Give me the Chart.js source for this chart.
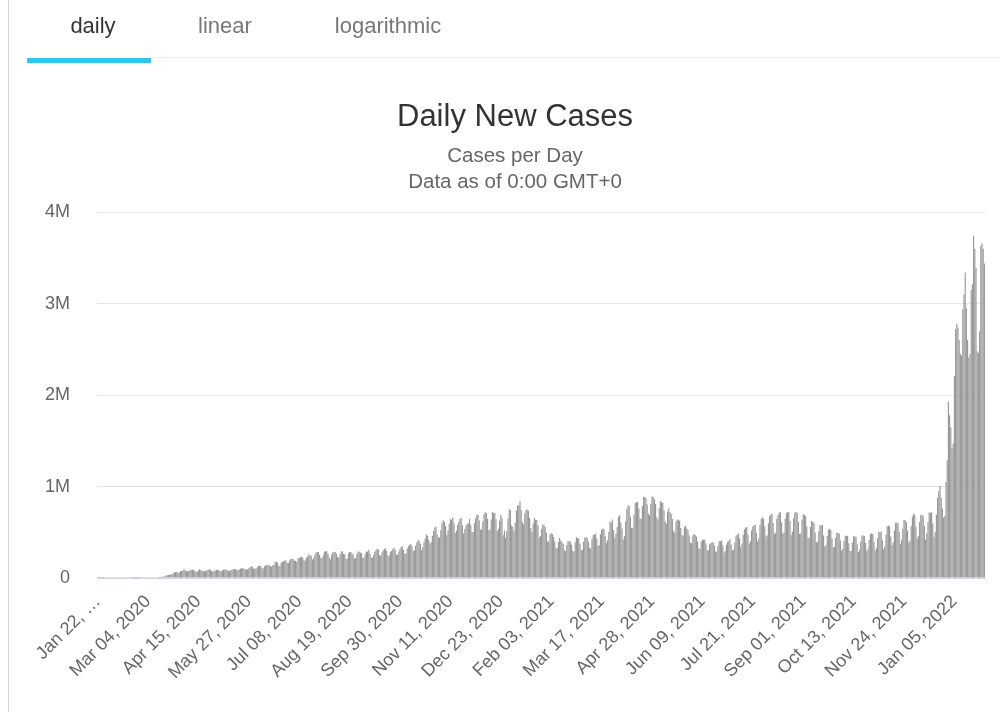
<!DOCTYPE html>
<html>
<head>
<meta charset="utf-8">
<script src="https://cdn.jsdelivr.net/npm/chart.js@4.4.1/dist/chart.umd.min.js"></script>
<style>
html,body{margin:0;padding:0;background:#fff;width:1000px;height:712px;overflow:hidden;font-family:"Liberation Sans",Arial,sans-serif;}
#wrap{position:relative;width:1000px;height:712px;}
#leftline{position:absolute;left:8px;top:0;width:1px;height:712px;background:#d6d6d6;}
.tab{position:absolute;top:11px;font-size:22px;line-height:30px;color:#777;transform:translateX(-50%);white-space:nowrap;}
#t1{left:93px;color:#333;}
#t2{left:225px;}
#t3{left:388px;}
#underline{position:absolute;left:27px;top:58px;width:124px;height:5px;background:#2fc4f2;}
#sep{position:absolute;left:151px;top:57px;width:849px;height:1px;background:#ececec;}
#chartbox{position:absolute;left:0;top:0;width:1000px;height:712px;}
</style>
</head>
<body>
<div id="wrap">
  <div id="chartbox"><canvas id="c" width="1000" height="712"></canvas></div>
  <div id="leftline"></div>
  <div class="tab" id="t1">daily</div>
  <div class="tab" id="t2">linear</div>
  <div class="tab" id="t3">logarithmic</div>
  <div id="sep"></div>
  <div id="underline"></div>
</div>
<script>
// Daily new cases, in thousands, one row per week (first day: Jan 22, 2020)
const dailyCasesK = [
// Jan 22 2020
0.6,0.1,0.3,0.5,0.7,0.8,1.7,
1.5,1.8,2.1,2.6,2.8,3.2,3.9,
3.7,3.2,3.4,2.7,2.6,2.3,2.0,
4.0,3.5,2.1,2.6,2.1,2.0,1.9,
0.5,0.6,1.0,0.6,0.7,0.5,0.9,
0.9,1.3,1.9,1.7,2.0,2.2,2.4,
// Mar 04 2020
2.8,2.7,3.8,3.9,4.0,4.1,4.6,
7.0,7.4,10.4,11.0,13.0,14.5,16.0,
19.8,27,31,33,35,41,40,
49,62,62,65,59,58,75,
77,80,100,80,79,71,78,
84,88,92,87,78,69,71,
// Apr 15 2020
81,97,86,83,77,75,79,
83,87,99,91,77,68,76,
80,87,94,86,76,75,81,
92,94,92,87,76,78,85,
85,98,97,98,86,88,93,
101,107,106,102,98,89,95,
// May 27 2020
107,117,126,124,104,100,106,
118,130,132,132,109,104,129,
138,140,144,138,130,122,140,
146,178,178,168,129,138,166,
176,182,192,191,165,163,191,
212,209,206,188,190,174,215,
// Jul 08 2020
218,230,236,218,193,190,218,
234,259,246,246,202,214,250,
280,285,285,255,218,216,246,
286,292,292,264,223,206,254,
280,287,283,269,231,221,256,
292,290,265,260,213,207,264,
// Aug 19 2020
283,284,270,258,214,216,263,
293,288,278,270,219,222,266,
289,290,310,266,228,221,248,
286,305,321,311,248,245,278,
304,321,323,296,243,246,286,
298,317,332,308,256,251,291,
// Sep 30 2020
318,339,344,306,262,270,322,
348,364,373,351,294,304,352,
389,413,407,375,304,335,390,
431,479,461,415,378,395,463,
513,552,560,476,440,447,521,
602,631,616,568,468,519,592,
// Nov 11 2020
644,637,662,599,492,520,583,
615,648,656,576,488,532,574,
590,600,645,580,503,503,598,
650,692,693,631,527,533,615,
697,720,711,647,525,530,640,
722,712,713,640,515,540,625,
// Dec 23 2020
690,651,468,520,440,510,652,
752,745,574,561,517,604,738,
790,799,840,744,611,588,702,
746,746,735,660,546,500,595,
659,637,634,575,442,458,539,
584,580,557,495,397,401,472,
// Feb 03 2021
492,480,450,400,325,326,393,
440,411,395,371,304,293,362,
404,404,396,363,294,290,390,
447,437,432,375,306,305,396,
446,440,444,400,330,320,430,
468,477,484,432,349,362,479,
// Mar 17 2021
527,541,534,460,379,413,507,
618,606,641,521,435,483,559,
671,686,609,541,422,456,619,
755,793,789,672,549,549,695,
819,831,830,760,653,645,785,
887,890,876,804,702,685,813,
// Apr 28 2021
894,887,860,812,663,638,764,
843,829,821,741,618,593,726,
762,723,699,645,517,495,619,
637,638,626,548,470,462,556,
571,542,521,465,386,379,466,
480,470,454,400,325,316,399,
// Jun 09 2021
417,420,422,376,307,298,369,
382,390,391,356,289,290,350,
401,402,411,358,279,298,363,
393,406,426,366,300,309,388,
463,472,488,436,339,378,470,
532,549,557,475,374,401,519,
// Jul 21 2021
562,579,583,494,400,431,579,
647,662,649,564,453,464,600,
674,693,703,601,481,491,646,
687,716,718,610,487,501,647,
708,723,719,624,469,506,651,
716,721,714,612,481,487,637,
// Sep 01 2021
694,692,675,566,443,434,557,
624,616,602,498,389,397,510,
578,580,578,466,345,362,460,
527,538,526,431,334,339,438,
494,492,486,414,300,320,405,
462,460,462,380,294,296,388,
// Oct 13 2021
456,453,450,368,282,310,400,
466,466,460,382,296,322,418,
485,488,484,395,301,325,432,
502,503,508,412,316,345,472,
563,574,565,455,357,391,519,
603,608,600,504,372,418,540,
// Nov 24 2021
633,631,610,516,387,410,568,
673,706,693,560,428,458,612,
690,693,676,568,421,488,616,
720,712,718,599,452,505,691,
880,950,1010,880,760,660,680,
1050,1290,1930,1780,1650,1420,1470,
// Jan 05 2022
2210,2720,2780,2740,2600,2450,2430,
2940,3100,3340,2950,2600,2410,2450,
3150,3210,3740,3600,3390,2480,2460,
2700,3630,3660,3600,3440
];

// Tick labels shown every 42 days on the x axis
const tickLabels = [
"Jan 22, \u2026","Mar 04, 2020","Apr 15, 2020","May 27, 2020","Jul 08, 2020","Aug 19, 2020",
"Sep 30, 2020","Nov 11, 2020","Dec 23, 2020","Feb 03, 2021","Mar 17, 2021","Apr 28, 2021",
"Jun 09, 2021","Jul 21, 2021","Sep 01, 2021","Oct 13, 2021","Nov 24, 2021","Jan 05, 2022"
];
const tickEvery = 42;

// Y axis tick labels
const yTickLabels = {0:"0",1000000:"1M",2000000:"2M",3000000:"3M",4000000:"4M"};

// Categories: one per day from Jan 22, 2020
const monthNames = ["Jan","Feb","Mar","Apr","May","Jun","Jul","Aug","Sep","Oct","Nov","Dec"];
const categories = [];
{
  const start = Date.UTC(2020,0,22);
  for (let i = 0; i < dailyCasesK.length; i++) {
    const d = new Date(start + i*86400000);
    categories.push(monthNames[d.getUTCMonth()] + " " + String(d.getUTCDate()).padStart(2,"0") + ", " + d.getUTCFullYear());
  }
}
const dailyCases = dailyCasesK.map(v => Math.round(v*1000));

const FONT = "'Liberation Sans', Arial, Helvetica, sans-serif";

new Chart(document.getElementById('c'), {
  type: 'bar',
  data: {
    labels: categories,
    datasets: [{
      label: 'Daily Cases',
      data: dailyCases,
      backgroundColor: '#979797',
      borderWidth: 0,
      barPercentage: 1.0,
      categoryPercentage: 0.94
    }]
  },
  options: {
    responsive: false,
    animation: false,
    events: [],
    layout: { padding: { top: 0, right: 15, bottom: 0, left: 45 } },
    plugins: {
      legend: { display: false },
      tooltip: { enabled: false },
      title: {
        display: true,
        text: 'Daily New Cases',
        color: '#333333',
        font: { family: FONT, size: 31, weight: 'normal', lineHeight: 1.2 },
        padding: { top: 99, bottom: 3 }
      },
      subtitle: {
        display: true,
        text: ['Cases per Day', 'Data as of 0:00 GMT+0'],
        color: '#666666',
        font: { family: FONT, size: 20.5, weight: 'normal', lineHeight: 1.27 },
        padding: { top: 4, bottom: 17 }
      }
    },
    scales: {
      x: {
        grid: { display: false, drawTicks: false },
        border: { display: true, color: '#ccd6eb', width: 1 },
        ticks: {
          autoSkip: false,
          maxRotation: 45,
          minRotation: 45,
          padding: 13,
          labelOffset: 0,
          color: '#666666',
          font: { family: FONT, size: 18 },
          callback: (v, i) => (i % tickEvery === 0 && tickLabels[i / tickEvery] !== undefined) ? tickLabels[i / tickEvery] : null
        },
        afterFit: s => { s.height = 134; }
      },
      y: {
        min: 0,
        max: 4000000,
        grid: { color: '#e6e6e6', drawTicks: false, lineWidth: 1 },
        border: { display: false },
        ticks: {
          stepSize: 1000000,
          padding: 27,
          color: '#666666',
          font: { family: FONT, size: 18 },
          callback: v => yTickLabels[v] !== undefined ? yTickLabels[v] : ''
        },
        afterFit: s => { s.width = 52; }
      }
    }
  }
});
</script>
</body>
</html>
